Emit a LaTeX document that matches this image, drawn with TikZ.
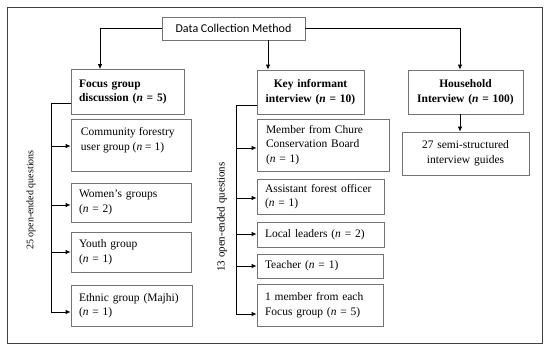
\documentclass[tikz,border=0pt]{standalone}
\usepackage{fontspec}
\setmainfont{Liberation Serif}
\newfontfamily\serifA{Liberation Serif}
\newfontfamily\dcmfont{Carlito}
\usetikzlibrary{arrows.meta,calc}
\begin{document}
\begin{tikzpicture}[x=1pt,y=-1pt,
  bx/.style={draw=black!55,line width=0.7pt,rectangle,inner ysep=0pt,inner xsep=10pt,
    font=\serifA\fontsize{11.5}{14.5}\selectfont},
  lbx/.style={bx,align=left},
  cbx/.style={bx,align=center},
  bbx/.style={cbx,font=\serifA\bfseries\fontsize{11.5}{14.5}\selectfont},
  conn/.style={draw=black,line width=0.9pt},
  arr/.style={conn,-{Latex[length=5pt,width=4.5pt]}},
  rot/.style={rotate=90,inner sep=0pt}
]
\useasboundingbox (0,0) rectangle (550,356);
\node[draw=black!75,line width=0.8pt,minimum width=535pt,minimum height=336pt,inner sep=0pt] (frame) at (274.5,175) {};

% top level
\node[bx,minimum width=143pt,minimum height=23pt,inner xsep=0pt,font=\dcmfont\fontsize{12}{14}\selectfont] (dcm) at (233.5,28.5) {Data Collection Method};
\node[bbx,align=left,text width=97pt,minimum height=45pt,inner xsep=8pt] (fgd) at (127.5,92) {Focus group\\discussion (\textit{n} = 5)};
\node[bbx,text width=97pt,inner xsep=5pt,minimum height=44pt] (kii) at (310.5,92) {Key informant\\interview (\textit{n} = 10)};
\node[bbx,text width=105pt,inner xsep=5pt,minimum height=44pt] (hh) at (465.5,92) {Household\\Interview (\textit{n} = 100)};
\node[cbx,text width=117pt,inner xsep=5pt,minimum height=43pt] (semi) at (465.5,153.5) {27 semi-structured\\interview guides};

% focus group items
\node[bx,inner xsep=10pt,minimum height=52pt] (cf) at (131,145) {\parbox[c][52pt][t]{100pt}{\raggedright\rule{0pt}{16.5pt}Community forestry\\user group (\textit{n} = 1)}};
\node[lbx,text width=104pt,inner xsep=8pt,minimum height=39pt] (wg) at (131,202.5) {Women’s groups\\(\textit{n} = 2)};
\node[lbx,text width=104pt,inner xsep=8pt,minimum height=40pt] (yg) at (131,252) {Youth group\\(\textit{n} = 1)};
\node[lbx,text width=105pt,inner xsep=8pt,minimum height=41pt] (eg) at (131.5,305.5) {Ethnic group (Majhi)\\(\textit{n} = 1)};

% key informant items
\node[lbx,text width=114pt,inner xsep=9pt,minimum height=52pt] (mc) at (323,145) {Member from Chure\\Conservation Board\\(\textit{n} = 1)};
\node[lbx,text width=111pt,inner xsep=8pt,minimum height=35pt] (af) at (320.5,196.5) {Assistant forest officer\\(\textit{n} = 1)};
\node[lbx,text width=111pt,inner xsep=8pt,minimum height=25pt] (ll) at (320.5,234.5) {Local leaders (\textit{n} = 2)};
\node[lbx,text width=110pt,inner xsep=8pt,minimum height=24pt] (te) at (320,266) {Teacher (\textit{n} = 1)};
\node[lbx,text width=110pt,inner xsep=8pt,minimum height=42pt] (om) at (320,305) {1 member from each\\Focus group (\textit{n} = 5)};

% rotated labels
\node[rot,font=\serifA\fontsize{10}{12}\selectfont] (q25) at (31,200) {25 open-ended questions};
\node[rot,font=\serifA\fontsize{11}{13}\selectfont] (q13) at (222,217) {13 open-ended questions};

% top connectors
\draw[arr] (dcm.west) -| ([xshift=-27.5pt]fgd.north);
\draw[arr] ([xshift=34.5pt]dcm.south) -- ([xshift=34.5pt]dcm.south |- kii.north);
\draw[arr] (dcm.east) -| ([xshift=-5.5pt]hh.north);
\draw[arr] ([xshift=-5.5pt]hh.south) -- ([xshift=-5.5pt]hh.south |- semi.north);

% focus bracket
\coordinate (fb) at (51,103);
\coordinate (f1) at (51,146);
\coordinate (f2) at (51,205);
\coordinate (f3) at (51,252);
\coordinate (f4) at (51,312);
\draw[conn] (fgd.west |- fb) -- (fb) -- (f4);
\draw[arr] (f1) -- (cf.west |- f1);
\draw[arr] (f2) -- (wg.west |- f2);
\draw[arr] (f3) -- (yg.west |- f3);
\draw[arr] (f4) -- (eg.west |- f4);

% key informant bracket
\coordinate (kb) at (236,105);
\coordinate (k1) at (236,148);
\coordinate (k2) at (236,198);
\coordinate (k3) at (236,234);
\coordinate (k4) at (236,266);
\coordinate (k5) at (236,314);
\draw[conn] (kii.west |- kb) -- (kb) -- (k5);
\draw[arr] (k1) -- (mc.west |- k1);
\draw[arr] (k2) -- (af.west |- k2);
\draw[arr] (k3) -- (ll.west |- k3);
\draw[arr] (k4) -- (te.west |- k4);
\draw[arr] (k5) -- (om.west |- k5);
\end{tikzpicture}
\end{document}
